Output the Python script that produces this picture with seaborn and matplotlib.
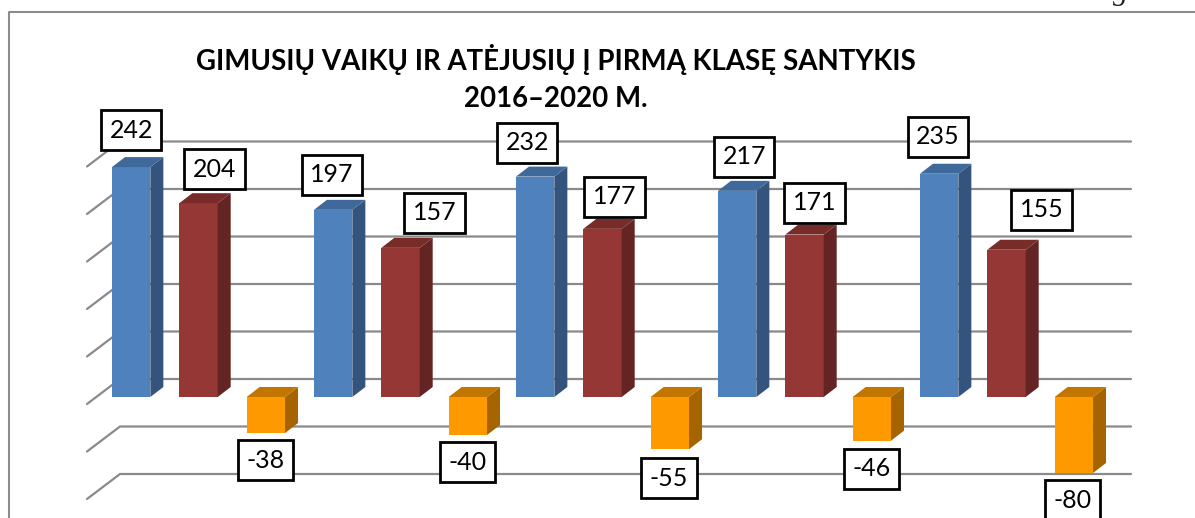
import pandas as pd
import numpy as np
import matplotlib.pyplot as plt
from matplotlib.lines import Line2D
from matplotlib.patches import Polygon
import seaborn as sns

# Chart data
years = ["2016", "2017", "2018", "2019", "2020"]
born = [242, 197, 232, 217, 235]
first_grade = [204, 157, 177, 171, 155]
difference = [-38, -40, -55, -46, -80]
grid_values = [-100, -50, 0, 50, 100, 150, 200, 250]

title_text = "GIMUSIŲ VAIKŲ IR ATĖJUSIŲ Į PIRMĄ KLASĘ SANTYKIS\n2016–2020 M."
series_names = ["Gimę", "Pirma klasė", "Skirtumas"]

# Colours per series: front, side, top
front_colors = ["#4F81BD", "#953735", "#FF9900"]
side_colors = ["#34547D", "#632423", "#A66400"]
top_colors = ["#40699B", "#772C2A", "#C27600"]
grid_color = "#8A8A8A"

# Where each label box sits relative to the end of its bar, in pixels (right, up)
label_shift = [
    [(0, 37), (-1, 35), (-8, 34), (7, 34), (-1, 37)],
    [(16, 34), (34, 35), (12, 32), (10, 32), (35, 40)],
    [(0, -27), (0, -27), (-1, -29), (0, -28), (-1, -27)],
]

# Pixel scale of the picture
FIG_W, FIG_H = 1195, 518
PX_PER_CAT = 202.0
PX_PER_VAL = 0.95
ZERO_X, ZERO_Y = 198.5, 397.0

sns.set_theme(style="white")
plt.rcParams["font.family"] = ["Lato", "DejaVu Sans"]

df = pd.DataFrame({
    "year": years * 3,
    "series": np.repeat(series_names, len(years)),
    "value": born + first_grade + difference,
})

fig = plt.figure(figsize=(FIG_W / 100, FIG_H / 100), dpi=100, facecolor="white")
ax = fig.add_axes([0, 0, 1, 1])

sns.barplot(
    data=df, x="year", y="value", hue="series", hue_order=series_names,
    palette=front_colors, width=1.0, gap=0.43, saturation=1, legend=False,
    errorbar=None, ax=ax, zorder=3, linewidth=0,
)

ax.set_xlim(-ZERO_X / PX_PER_CAT, (FIG_W - ZERO_X) / PX_PER_CAT)
ax.set_ylim(-(FIG_H - ZERO_Y) / PX_PER_VAL, ZERO_Y / PX_PER_VAL)
ax.axis("off")

# Depth of the fake 3D, in data units
depth_x = 13 / PX_PER_CAT
depth_y = 10 / PX_PER_VAL

# ---------------- BACK WALL GRID ----------------
wall_lift = 18 / PX_PER_VAL
wall_left = (120 - ZERO_X) / PX_PER_CAT
wall_right = (1131 - ZERO_X) / PX_PER_CAT
diag_x = 33 / PX_PER_CAT
diag_y = 25 / PX_PER_VAL
for v in grid_values:
    y = v + wall_lift
    ax.plot([wall_left - diag_x, wall_left, wall_right], [y - diag_y, y, y],
            color=grid_color, lw=1.6, zorder=1, solid_joinstyle="miter")

# ---------------- BAR SIDES AND LABELS ----------------
for s, container in enumerate(ax.containers):
    for i, bar in enumerate(container):
        x0 = bar.get_x()
        x1 = x0 + bar.get_width()
        low = min(bar.get_y(), bar.get_y() + bar.get_height())
        high = max(bar.get_y(), bar.get_y() + bar.get_height())
        ax.add_patch(Polygon(
            [(x1, low), (x1 + depth_x, low + depth_y),
             (x1 + depth_x, high + depth_y), (x1, high)],
            closed=True, facecolor=side_colors[s], edgecolor="none", zorder=3))
        ax.add_patch(Polygon(
            [(x0, high), (x0 + depth_x, high + depth_y),
             (x1 + depth_x, high + depth_y), (x1, high)],
            closed=True, facecolor=top_colors[s], edgecolor="none", zorder=3))

        value = bar.get_height()
        dx, dy = label_shift[s][i]
        ax.annotate(
            str(int(value)), xy=(x0 + bar.get_width() / 2, value),
            xytext=(dx * 0.72, dy * 0.72), textcoords="offset points",
            ha="center", va="center", fontsize=18, color="black", zorder=5,
            bbox=dict(boxstyle="square,pad=0.34", facecolor="white",
                      edgecolor="black", linewidth=2),
        )

# ---------------- TITLE AND FRAME ----------------
fig.text(556 / FIG_W, 1 - 78 / FIG_H, title_text, ha="center", va="center",
         fontsize=19.9, fontweight="bold", color="black", linespacing=1.5)

fig.add_artist(Line2D([9 / FIG_W, 9 / FIG_W, 1], [0, 1 - 12 / FIG_H, 1 - 12 / FIG_H],
                      color="#8C8C8C", lw=1.5))

# Cut-off letter from the page text above the chart
fig.text(1113 / FIG_W, 1 + 1.5 / FIG_H, "g", family="Liberation Serif", style="italic",
         fontsize=22, ha="left", va="baseline", color="#222222")

fig.savefig("out.png", dpi=100)
